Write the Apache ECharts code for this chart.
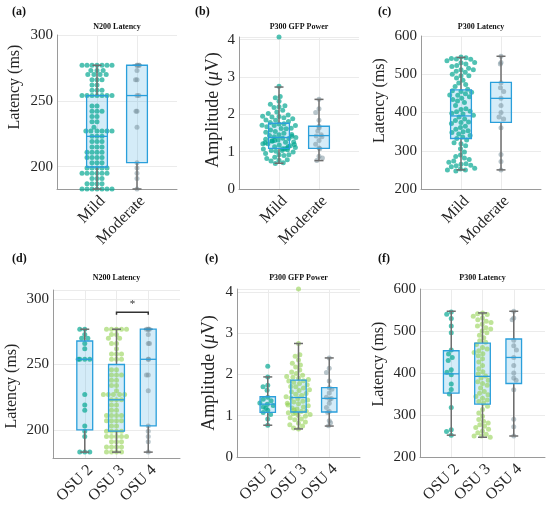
<!DOCTYPE html>
<html>
<head>
<meta charset="utf-8">
<script src="https://cdn.jsdelivr.net/npm/echarts@6/dist/echarts.min.js"></script>
<style>
  html, body { margin: 0; padding: 0; background: #fff; }
  #chart { width: 550px; height: 508px; }
</style>
</head>
<body>
<div id="chart"></div>
<script>
// categories (blank ends give the MATLAB-like xlim [0, n+1])
var topCats = ['', 'Mild', 'Moderate', ''];
var bottomCats = ['', 'OSU 2', 'OSU 3', 'OSU 4', ''];

// N200 latency (ms)
var osu2N200 = [277, 277, 273, 270, 270, 266, 262, 254, 254, 254, 254, 227, 219, 215, 203, 199, 195, 183, 183, 183];
var osu3N200 = [277, 277, 277, 277, 277, 273, 273, 270, 270, 266, 266, 262, 258, 258, 258, 254, 254, 254,
  246, 246, 242, 242, 242, 238, 238, 234, 234, 230, 227, 227, 227, 227, 227, 223, 223, 223, 219, 219,
  215, 215, 211, 211, 211, 211, 207, 207, 207, 207, 203, 203, 199, 199, 199, 199, 195, 195, 195, 195, 195,
  191, 191, 191, 187, 187, 187, 187, 183, 183, 183, 183];
var osu4N200 = [277, 277, 277, 277, 273, 266, 266, 254, 254, 242, 242, 230, 203, 199, 195, 191, 183];

// P300 GFP power (uV)
var osu2Gfp = [2.20, 1.94, 1.74, 1.70, 1.62, 1.45, 1.40, 1.36, 1.31, 1.28, 1.25, 1.21, 1.18, 1.13, 1.08, 1.03, 0.92, 0.77];
var osu3Gfp = [0.68, 0.70, 0.75, 0.78, 0.82, 0.85, 0.90, 0.92, 0.95, 0.99, 1.01, 1.03, 1.05, 1.07, 1.08,
  1.10, 1.11, 1.14, 1.16, 1.19, 1.21, 1.24, 1.26, 1.29, 1.30, 1.33, 1.35, 1.38, 1.41, 1.43,
  1.46, 1.49, 1.52, 1.54, 1.58, 1.61, 1.63, 1.67, 1.70, 1.71, 1.75, 1.78, 1.81, 1.84, 1.85,
  1.88, 1.91, 1.93, 1.95, 1.98, 2.02, 2.06, 2.11, 2.18, 2.23, 2.27, 2.35, 2.44, 2.48, 2.75, 4.07];
var osu4Gfp = [2.40, 2.15, 2.05, 1.84, 1.68, 1.64, 1.55, 1.45, 1.42, 1.40, 1.30, 1.20, 1.10, 1.08, 0.88, 0.83, 0.76];

// P300 latency (ms)
var osu2P300 = [545, 540, 530, 512, 496, 455, 445, 437, 430, 408, 402, 396, 374, 361, 350, 318, 265, 261, 252];
var osu3P300 = [543, 541, 539, 535, 531, 527, 523, 520, 516, 512, 508, 505, 500, 496, 490, 484, 477, 473,
  468, 461, 457, 453, 449, 446, 441, 434, 426, 418, 410, 403, 398, 393,
  388, 383, 379, 375, 371, 364, 356, 352, 348, 344, 340, 336, 332, 328,
  321, 313, 305, 297, 289, 285, 281, 277, 273, 270, 266, 262, 258, 254, 250, 250, 247];
var osu4P300 = [547, 531, 527, 478, 465, 455, 437, 418, 400, 388, 383, 360, 290, 272, 250];

// Mild = OSU 2 + OSU 3, Moderate = OSU 4
var mildN200 = osu2N200.concat(osu3N200);
var mildGfp = osu2Gfp.concat(osu3Gfp);
var mildP300 = osu2P300.concat(osu3P300);

// box stats: [min whisker, Q1, median, Q3, max whisker]
var boxN200Top = [[183, 199.7, 223, 254, 277], [183, 203, 254, 277, 277]];
var boxGfpTop = [[0.69, 1.09, 1.38, 1.76, 2.73], [0.76, 1.09, 1.43, 1.68, 2.40]];
var boxP300Top = [[250, 332, 391, 459, 544], [250, 374, 437, 479, 547]];
var boxN200Bottom = [[183, 200, 254, 268, 277], [183, 199, 223, 250, 277], [183, 203, 254, 277, 277]];
var boxGfpBottom = [[0.77, 1.08, 1.28, 1.46, 1.94], [0.68, 1.09, 1.44, 1.86, 2.75], [0.75, 1.09, 1.42, 1.68, 2.40]];
var boxP300Bottom = [[252, 352, 398, 453, 547], [247, 326, 392, 471, 543], [250, 375, 437, 481, 547]];

// significance bracket in (d)
var sigPair = ['OSU 3', 'OSU 4'];
var sigLevel = 290;
var sigMark = '*';

var FONT = 'Liberation Serif';
var TXT = '#262626';
var teal = 'rgba(0,166,143,0.85)';
var green = 'rgba(140,206,72,0.7)';
var slate = 'rgba(118,143,156,0.65)';
var boxStroke = '#2a9fdb';
var boxFill = 'rgba(42,159,219,0.2)';
var whisker = '#6e6e6e';

// spread = swarm width per group (px); nameShift moves the y title up (+) / down (-)
var panels = [
    {grid: {left: 57, top: 35, width: 120, height: 154}, cats: topCats, yMin: 183, yMax: 300, step: 50,
     yName: 'Latency (ms)', nameGap: 34, nameSize: 16, nameShift: 25, title: 'N200 Latency', letter: '(a)', lx: 12, ly: 13, ty: 27,
     boxFrac: 0.52, names: ['Mild', 'Moderate'], values: [mildN200, osu4N200], colors: [teal, slate],
     spread: [34, 5], box: boxN200Top},
    {grid: {left: 239, top: 37, width: 120, height: 152}, cats: topCats, yMin: 0, yMax: 4.07, step: 1,
     yName: 'Amplitude ({it|μ}V)', nameGap: 17, nameSize: 18, nameShift: 3, title: 'P300 GFP Power', letter: '(b)', lx: 195, ly: 13, ty: 27,
     boxFrac: 0.52, names: ['Mild', 'Moderate'], values: [mildGfp, osu4Gfp], colors: [teal, slate],
     spread: [34, 7], box: boxGfpTop},
    {grid: {left: 421, top: 36, width: 120, height: 153}, cats: topCats, yMin: 200, yMax: 600, step: 100,
     yName: 'Latency (ms)', nameGap: 33, nameSize: 16, nameShift: 12, title: 'P300 Latency', letter: '(c)', lx: 378, ly: 13, ty: 27,
     boxFrac: 0.52, names: ['Mild', 'Moderate'], values: [mildP300, osu4P300], colors: [teal, slate],
     spread: [34, 6], box: boxP300Top},
    {grid: {left: 53, top: 290, width: 127, height: 168}, cats: bottomCats, yMin: 178.5, yMax: 307, step: 50,
     yName: 'Latency (ms)', nameGap: 33, nameSize: 16, nameShift: -12, title: 'N200 Latency', letter: '(d)', lx: 12, ly: 260, ty: 278,
     boxFrac: 0.5, names: ['OSU 2', 'OSU 3', 'OSU 4'], values: [osu2N200, osu3N200, osu4N200],
     colors: [teal, green, slate], spread: [16, 28, 5], box: boxN200Bottom, sig: true},
    {grid: {left: 237, top: 289, width: 123, height: 168}, cats: bottomCats, yMin: 0, yMax: 4.07, step: 1,
     yName: 'Amplitude ({it|μ}V)', nameGap: 19, nameSize: 18, nameShift: 0, title: 'P300 GFP Power', letter: '(e)', lx: 205, ly: 260, ty: 278,
     boxFrac: 0.5, names: ['OSU 2', 'OSU 3', 'OSU 4'], values: [osu2Gfp, osu3Gfp, osu4Gfp],
     colors: [teal, green, slate], spread: [16, 28, 7], box: boxGfpBottom},
    {grid: {left: 420, top: 289, width: 125, height: 168}, cats: bottomCats, yMin: 200, yMax: 600, step: 100,
     yName: 'Latency (ms)', nameGap: 33, nameSize: 16, nameShift: 9, title: 'P300 Latency', letter: '(f)', lx: 378, ly: 260, ty: 278,
     boxFrac: 0.5, names: ['OSU 2', 'OSU 3', 'OSU 4'], values: [osu2P300, osu3P300, osu4P300],
     colors: [teal, green, slate], spread: [16, 28, 6], box: boxP300Bottom}
];

function boxFillItem(frac) {
    return function (params, api) {
        var x = api.value(0);
        var q1 = api.coord([x, api.value(2)]);
        var q3 = api.coord([x, api.value(4)]);
        var w = api.size([1, 0])[0] * frac;
        return {type: 'rect', shape: {x: q1[0] - w / 2, y: q3[1], width: w, height: q1[1] - q3[1]},
                style: {fill: boxFill}};
    };
}

function boxLineItem(frac) {
    return function (params, api) {
        var x = api.value(0);
        var pMin = api.coord([x, api.value(1)]);
        var q1 = api.coord([x, api.value(2)]);
        var med = api.coord([x, api.value(3)]);
        var q3 = api.coord([x, api.value(4)]);
        var pMax = api.coord([x, api.value(5)]);
        var w = api.size([1, 0])[0] * frac;
        var cap = 4.5;
        var cx = q1[0];
        var gray = {stroke: whisker, lineWidth: 1.5, fill: null};
        var blue = {stroke: boxStroke, lineWidth: 1.3, fill: null};
        return {type: 'group', children: [
            {type: 'line', shape: {x1: cx, y1: q1[1], x2: cx, y2: pMin[1]}, style: gray},
            {type: 'line', shape: {x1: cx, y1: q3[1], x2: cx, y2: pMax[1]}, style: gray},
            {type: 'line', shape: {x1: cx - cap, y1: pMin[1], x2: cx + cap, y2: pMin[1]}, style: gray},
            {type: 'line', shape: {x1: cx - cap, y1: pMax[1], x2: cx + cap, y2: pMax[1]}, style: gray},
            {type: 'rect', shape: {x: cx - w / 2, y: q3[1], width: w, height: q1[1] - q3[1]}, style: blue},
            {type: 'line', shape: {x1: cx - w / 2, y1: med[1], x2: cx + w / 2, y2: med[1]}, style: blue}
        ]};
    };
}

function sigItem(params, api) {
    var a = api.coord([api.value(0), api.value(2)]);
    var b = api.coord([api.value(1), api.value(2)]);
    return {type: 'group', children: [
        {type: 'polyline', shape: {points: [[a[0], a[1] + 2.5], a, b, [b[0], b[1] + 2.5]]},
         style: {stroke: '#333', lineWidth: 1.5, fill: null}},
        {type: 'text', x: (a[0] + b[0]) / 2, y: a[1] - 8,
         style: {text: sigMark, fill: '#333', font: '11px ' + FONT, align: 'center', verticalAlign: 'middle'}}
    ]};
}

function isStep(v, step) {
    var r = v / step;
    return Math.abs(r - Math.round(r)) < 1e-6;
}

// padding on one end of the rotated name slides it along the axis
function namePadding(shift) {
    return shift >= 0 ? [0, 0, 0, 2 * shift] : [0, -2 * shift, 0, 0];
}

var grids = [], xAxes = [], yAxes = [], series = [], graphics = [];

panels.forEach(function (p, i) {
    var g = p.grid;
    grids.push({left: g.left, top: g.top, width: g.width, height: g.height, containLabel: false, outerBoundsMode: 'none'});

    // visible axis: boxes, grid lines, labels
    var mainX = xAxes.length;
    xAxes.push({
        type: 'category', gridIndex: i, data: p.cats, boundaryGap: false,
        axisLine: {lineStyle: {color: '#9a9a9a', width: 1}},
        axisTick: {show: false},
        axisLabel: {interval: 0, rotate: 45, margin: 4, verticalAlign: 'top', align: 'right',
                    fontFamily: FONT, fontSize: 16, color: TXT},
        splitLine: {show: true, interval: function (idx, val) { return val !== ''; },
                    lineStyle: {color: '#ebebeb', width: 1}}
    });

    var step = p.step;
    yAxes.push({
        type: 'value', gridIndex: i, min: p.yMin, max: p.yMax, splitNumber: (p.yMax - p.yMin) / step,
        name: p.yName, nameLocation: 'middle', nameGap: p.nameGap,
        nameTextStyle: {fontFamily: FONT, fontSize: p.nameSize, color: TXT, padding: namePadding(p.nameShift),
                        rich: {it: {fontFamily: FONT, fontSize: p.nameSize, fontStyle: 'italic', color: TXT}}},
        axisLine: {show: true, lineStyle: {color: '#9a9a9a', width: 1}},
        axisTick: {show: false},
        axisLabel: {margin: 4, fontFamily: FONT, fontSize: 15, color: TXT,
                    formatter: function (v) { return isStep(v, step) ? String(Math.round(v * 100) / 100) : ''; }},
        splitLine: {lineStyle: {color: '#ebebeb', width: 1}}
    });

    var boxData = p.names.map(function (n, k) { return [p.cats.indexOf(n)].concat(p.box[k]); });
    series.push({type: 'custom', xAxisIndex: mainX, yAxisIndex: i, z: 1, silent: true,
                 renderItem: boxFillItem(p.boxFrac), encode: {x: 0, y: [1, 2, 3, 4, 5]}, data: boxData});

    p.names.forEach(function (n, k) {
        // hidden twin axis per group so each swarm gets its own width
        var xi = xAxes.length;
        xAxes.push({type: 'category', gridIndex: i, data: p.cats, boundaryGap: false, show: false,
                    jitter: p.spread[k], jitterOverlap: false, jitterMargin: 0});
        series.push({
            type: 'scatter', xAxisIndex: xi, yAxisIndex: i, z: 2, silent: true,
            symbolSize: 5, itemStyle: {color: p.colors[k]},
            data: p.values[k].map(function (v) { return [n, v]; })
        });
    });

    series.push({type: 'custom', xAxisIndex: mainX, yAxisIndex: i, z: 3, silent: true,
                 renderItem: boxLineItem(p.boxFrac), encode: {x: 0, y: [1, 2, 3, 4, 5]}, data: boxData});
    if (p.sig) {
        series.push({type: 'custom', xAxisIndex: mainX, yAxisIndex: i, z: 3, silent: true,
                     renderItem: sigItem, encode: {x: [0, 1], y: 2},
                     data: [[p.cats.indexOf(sigPair[0]), p.cats.indexOf(sigPair[1]), sigLevel]]});
    }

    graphics.push({type: 'text', left: p.lx, top: p.ly - 7,
                   style: {text: p.letter, font: 'bold 12px ' + FONT, fill: '#111'}});
    graphics.push({type: 'text', x: g.left + g.width / 2, y: p.ty,
                   style: {text: p.title, font: 'bold 8px ' + FONT, fill: '#111', align: 'center', verticalAlign: 'middle'}});
});

var myChart = echarts.init(document.getElementById('chart'));
myChart.setOption({
    animation: false,
    backgroundColor: '#fff',
    grid: grids,
    xAxis: xAxes,
    yAxis: yAxes,
    series: series,
    graphic: graphics
});
</script>
</body>
</html>
